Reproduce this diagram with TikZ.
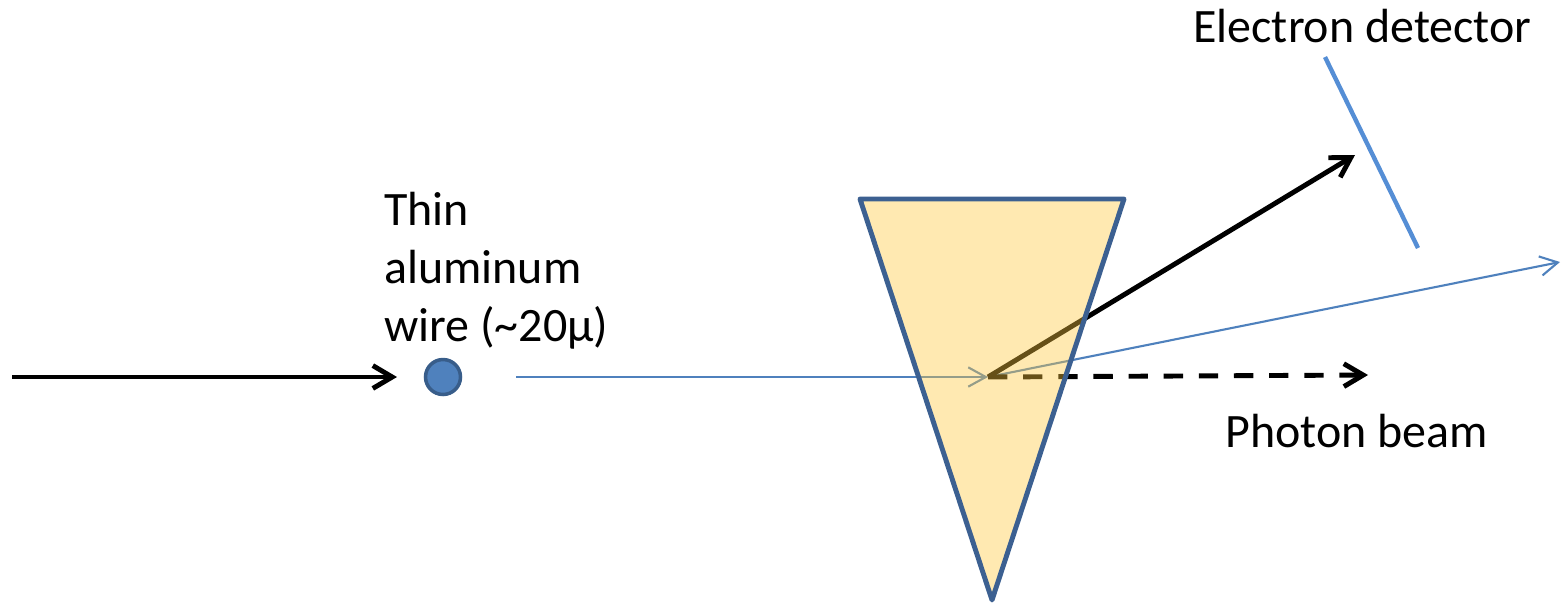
\documentclass[tikz,border=0pt]{standalone}
\usepackage{fontspec}
\setmainfont{Carlito}
\usetikzlibrary{arrows.meta,positioning}
\definecolor{beamblue}{RGB}{79,129,189}
\definecolor{wireedge}{RGB}{56,93,138}
\definecolor{prismedge}{RGB}{60,96,145}
\definecolor{prismfill}{RGB}{255,200,60}
\definecolor{detblue}{RGB}{85,142,213}
\tikzset{
  lbl/.style={inner sep=0pt,font=\fontsize{27.3}{33}\selectfont},
  heavy/.style={line width=2.8pt,-{Straight Barb[length=11pt,width=13pt,line width=2.8pt]}},
  light/.style={line width=1.2pt,beamblue,-{Straight Barb[length=10pt,width=11pt,line width=1.2pt]}}
}

\begin{document}
\begin{tikzpicture}[x=0.02cm,y=-0.02cm]
        \useasboundingbox (0,0) rectangle (1564,603);
        \coordinate (src) at (12,377);
        \coordinate (inend) at (397,377);
        \node[circle,fill=beamblue,draw=wireedge,line width=2pt,minimum size=0.7cm,inner sep=0pt] (wire) at (443,377) {};
        \coordinate (beamstart) at (516,377);
        \coordinate (hit) at (988,377);
        \coordinate (eend) at (1355,155);
        \coordinate (send) at (1560,262);
        \coordinate (pend) at (1368,375);
        \coordinate (detA) at (1325,57);
        \coordinate (detB) at (1418,248);
        \coordinate (pl) at (860,199);
        \coordinate (pr) at (1124,199);
        \coordinate (pb) at (992,600);
        \draw[heavy] (src) -- (inend);
        \draw[light] (beamstart) -- (hit);
        \draw[light] (hit) -- (send);
        \draw[heavy] (hit) -- (eend);
        \draw[heavy,dash pattern=on 11pt off 9pt] (hit) -- (pend);
        \draw[detblue,line width=2.5pt] (detA) -- (detB);
        \draw[prismedge,line width=2.8pt,line join=round,fill=prismfill,fill opacity=0.4] (pl) -- (pr) -- (pb) -- cycle;
        \node[lbl,align=left,anchor=north west] (wirelbl) at (384,192) {Thin\\aluminum\\wire (\textasciitilde 20μ)};
        \node[lbl,anchor=base west] (detlbl) at (1193,42) {Electron detector};
        \node[lbl,anchor=base west] (photlbl) at (1225,447) {Photon beam};
      \end{tikzpicture}
\end{document}
